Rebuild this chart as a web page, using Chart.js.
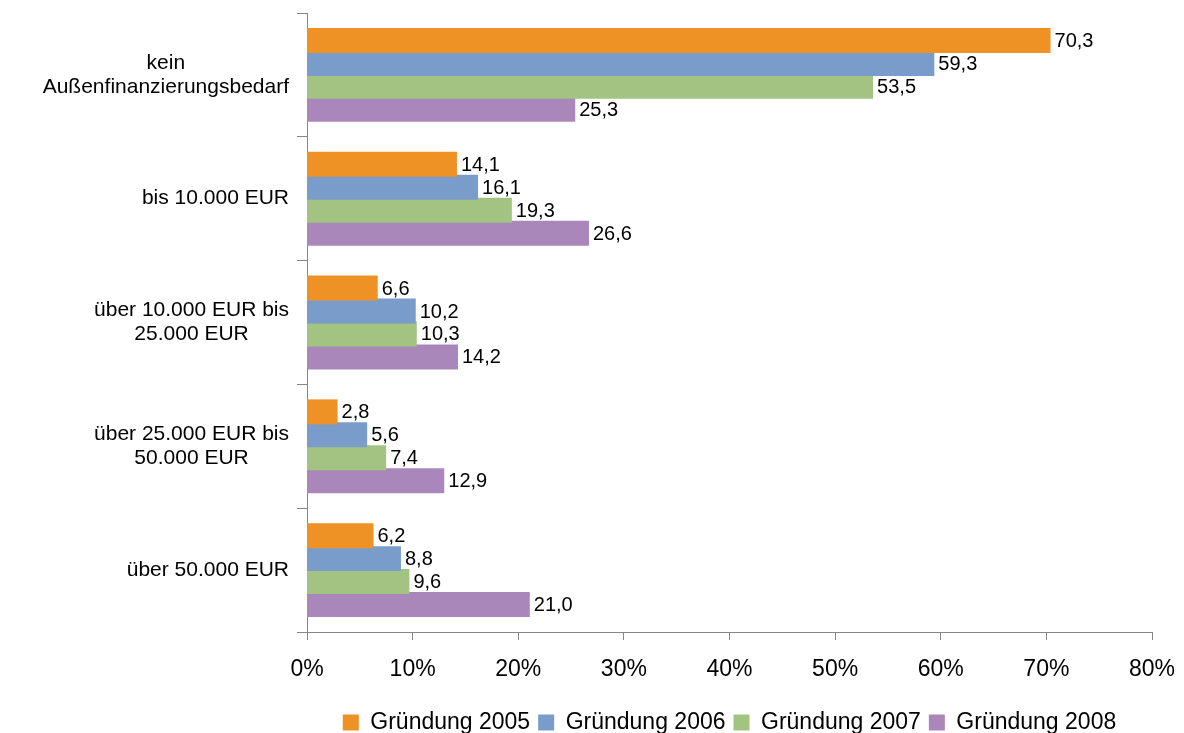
<!DOCTYPE html>
<html>
<head>
<meta charset="utf-8">
<script src="https://cdn.jsdelivr.net/npm/chart.js@4"></script>
<style>
  body { margin: 0; background: #fff; }
  canvas { display: block; }
</style>
</head>
<body>
<canvas id="myChart" width="1184" height="733"></canvas>
<script>
// Kategorien (mehrzeilig) und Werte in Prozent
const categories = [
  ["kein", "Außenfinanzierungsbedarf"],
  ["bis 10.000 EUR"],
  ["über 10.000 EUR bis", "25.000 EUR"],
  ["über 25.000 EUR bis", "50.000 EUR"],
  ["über 50.000 EUR"]
];
const seriesNames = ["Gründung 2005", "Gründung 2006", "Gründung 2007", "Gründung 2008"];
const g2005 = [70.3, 14.1, 6.6, 2.8, 6.2];
const g2006 = [59.3, 16.1, 10.2, 5.6, 8.8];
const g2007 = [53.5, 19.3, 10.3, 7.4, 9.6];
const g2008 = [25.3, 26.6, 14.2, 12.9, 21.0];
const xTicks = [0, 10, 20, 30, 40, 50, 60, 70, 80];

const colors = ["#EE9226", "#7A9CCA", "#A3C382", "#A987BA"];
const axisColor = "#868686";

Chart.defaults.font.family = "'Liberation Sans', Arial, sans-serif";
Chart.defaults.color = "#000";

// Werte rechts neben die Balken schreiben
const valueLabels = {
  id: "valueLabels",
  afterDatasetsDraw(chart) {
    const ctx = chart.ctx;
    ctx.save();
    ctx.font = "20px 'Liberation Sans', Arial, sans-serif";
    ctx.fillStyle = "#000";
    ctx.textAlign = "left";
    ctx.textBaseline = "middle";
    chart.data.datasets.forEach((ds, di) => {
      chart.getDatasetMeta(di).data.forEach((bar, i) => {
        const txt = ds.data[i].toFixed(1).replace(".", ",");
        ctx.fillText(txt, bar.x + 5, bar.y + 1);
      });
    });
    ctx.restore();
  }
};

// Kategorie-Beschriftung: Zeilen zentriert, Block rechtsbündig
const categoryLabels = {
  id: "categoryLabels",
  afterDraw(chart) {
    const ctx = chart.ctx;
    const scale = chart.scales.y;
    const lineH = 24;
    ctx.save();
    ctx.font = "21px 'Liberation Sans', Arial, sans-serif";
    ctx.fillStyle = "#000";
    ctx.textAlign = "center";
    ctx.textBaseline = "middle";
    categories.forEach((lines, i) => {
      const maxW = Math.max(...lines.map(l => ctx.measureText(l).width));
      const cx = scale.left + scale.width - 18 - maxW / 2;
      const cy = scale.getPixelForTick(i);
      const y0 = cy - (lines.length - 1) * lineH / 2;
      lines.forEach((l, k) => ctx.fillText(l, cx, y0 + k * lineH));
    });
    ctx.restore();
  }
};

const ctx = document.getElementById("myChart").getContext("2d");
new Chart(ctx, {
  type: "bar",
  data: {
    labels: categories,
    datasets: [g2005, g2006, g2007, g2008].map((d, i) => ({
      label: seriesNames[i],
      data: d,
      backgroundColor: colors[i],
      borderWidth: 0,
      inflateAmount: 1,
      categoryPercentage: 0.742,
      barPercentage: 1.0
    }))
  },
  options: {
    indexAxis: "y",
    responsive: false,
    animation: false,
    layout: {
      padding: { left: 0, right: 32, top: 13, bottom: -11 }
    },
    scales: {
      x: {
        min: 0,
        max: 80,
        afterBuildTicks(scale) {
          scale.ticks = xTicks.map(v => ({ value: v }));
        },
        afterFit(scale) {
          scale.height = 71;
          scale.paddingLeft = 0;
          scale.paddingRight = 0;
        },
        border: { color: axisColor, width: 1 },
        grid: { drawOnChartArea: false, color: axisColor, tickLength: 8 },
        ticks: {
          padding: 16,
          font: { size: 23 },
          color: "#000",
          maxRotation: 0,
          callback: v => v + "%"
        }
      },
      y: {
        afterFit(scale) { scale.width = 307; },
        border: { color: axisColor, width: 1 },
        grid: { drawOnChartArea: false, color: axisColor, tickLength: 10, offset: true },
        ticks: { display: false }
      }
    },
    plugins: {
      tooltip: { enabled: false },
      legend: {
        position: "bottom",
        fullSize: false,
        labels: {
          boxWidth: 16,
          boxHeight: 16,
          padding: 8,
          color: "#000",
          font: { size: 23 }
        }
      }
    }
  },
  plugins: [valueLabels, categoryLabels]
});
</script>
</body>
</html>
